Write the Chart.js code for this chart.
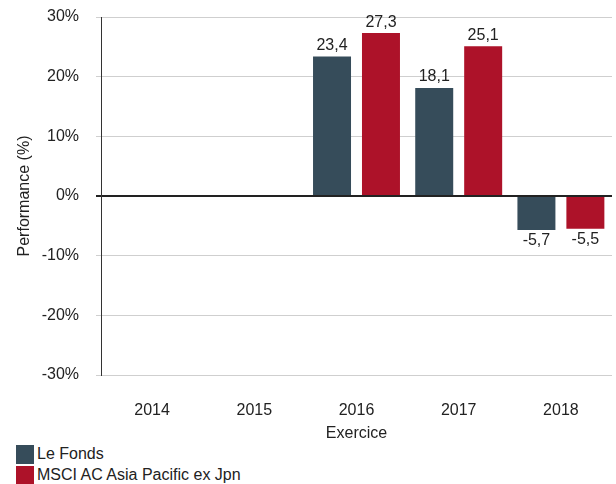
<!DOCTYPE html>
<html>
<head>
<meta charset="utf-8">
<script src="https://cdn.jsdelivr.net/npm/chart.js@4"></script>
<style>
  body { margin: 0; background: #fff; font-family: "Liberation Sans", Arial, sans-serif; }
  #wrap { position: relative; width: 616px; height: 484px; }
  #perfChart { display: block; }
  #legend { position: absolute; left: 16px; top: 444px; color: #222; font-size: 16px; }
  .item { display: flex; align-items: center; height: 20px; margin-bottom: 1px; }
  .box { width: 18px; height: 19px; margin-right: 3px; }
</style>
</head>
<body>
<div id="wrap">
  <canvas id="perfChart" width="616" height="444"></canvas>
  <div id="legend"></div>
</div>
<script>
// 연도별 성과
const years = ['2014', '2015', '2016', '2017', '2018'];
const fondsValues = [null, null, 23.4, 18.1, -5.7];
const indexValues = [null, null, 27.3, 25.1, -5.5];
const yTicks = [-30, -20, -10, 0, 10, 20, 30];

const seriesNames = ['Le Fonds', 'MSCI AC Asia Pacific ex Jpn'];
const seriesColors = ['#364c5a', '#ad1229'];

// 막대 위 값 표시
const valueLabels = {
    id: 'valueLabels',
    afterDatasetsDraw(chart) {
        const c = chart.ctx;
        c.save();
        c.font = '16px "Liberation Sans", Arial, sans-serif';
        c.fillStyle = '#222';
        c.textAlign = 'center';
        c.textBaseline = 'middle';
        chart.data.datasets.forEach((ds, i) => {
            chart.getDatasetMeta(i).data.forEach((bar, j) => {
                const v = ds.data[j];
                if (v === null) return;
                const txt = v.toFixed(1).replace('.', ',');
                const y = v >= 0 ? bar.y - 11 : bar.y + 11;
                c.fillText(txt, bar.x, y);
            });
        });
        c.restore();
    }
};

const ctx = document.getElementById('perfChart');
const perfChart = new Chart(ctx, {
    type: 'bar',
    data: {
        labels: years,
        datasets: [{
            label: seriesNames[0],
            data: fondsValues,
            backgroundColor: seriesColors[0],
            categoryPercentage: 0.958,
            barPercentage: 0.776
        },
        {
            label: seriesNames[1],
            data: indexValues,
            backgroundColor: seriesColors[1],
            categoryPercentage: 0.958,
            barPercentage: 0.776
        }]
    },
    options: {
        responsive: false,
        animation: false,
        layout: { padding: { top: 17, right: 4, left: 0, bottom: 0 } },
        scales: {
            x: {
                grid: { display: false, drawTicks: false },
                border: { display: false },
                afterFit: (axis) => { axis.height = 69; },
                ticks: { color: '#222', font: { size: 16 }, padding: 26, maxRotation: 0 },
                title: { display: true, text: 'Exercice', color: '#222', font: { size: 16 }, padding: { top: 4, bottom: 1 } }
            },
            y: {
                min: -30,
                max: 30,
                afterBuildTicks: (axis) => { axis.ticks = yTicks.map(v => ({ value: v })); },
                afterFit: (axis) => { axis.width = 101; axis.paddingTop = 0; axis.paddingBottom = 0; },
                ticks: {
                    color: '#222',
                    font: { size: 16 },
                    padding: 17,
                    callback: (v) => v + '%'
                },
                grid: {
                    tickLength: 5,
                    color: (c) => c.tick && c.tick.value === 0 ? '#222' : '#cfcfcf',
                    lineWidth: (c) => c.tick && c.tick.value === 0 ? 2 : 1
                },
                border: { color: '#333', width: 1 },
                title: { display: true, text: 'Performance (%)', color: '#222', font: { size: 16 }, padding: { top: 15, bottom: 0 } }
            }
        },
        plugins: {
            legend: { display: false },
            tooltip: { enabled: false }
        }
    },
    plugins: [valueLabels]
});

// 범례
const legend = document.getElementById('legend');
seriesNames.forEach((name, i) => {
    const row = document.createElement('div');
    row.className = 'item';
    row.innerHTML = '<span class="box" style="background:' + seriesColors[i] + '"></span><span>' + name + '</span>';
    legend.appendChild(row);
});
</script>
</body>
</html>
